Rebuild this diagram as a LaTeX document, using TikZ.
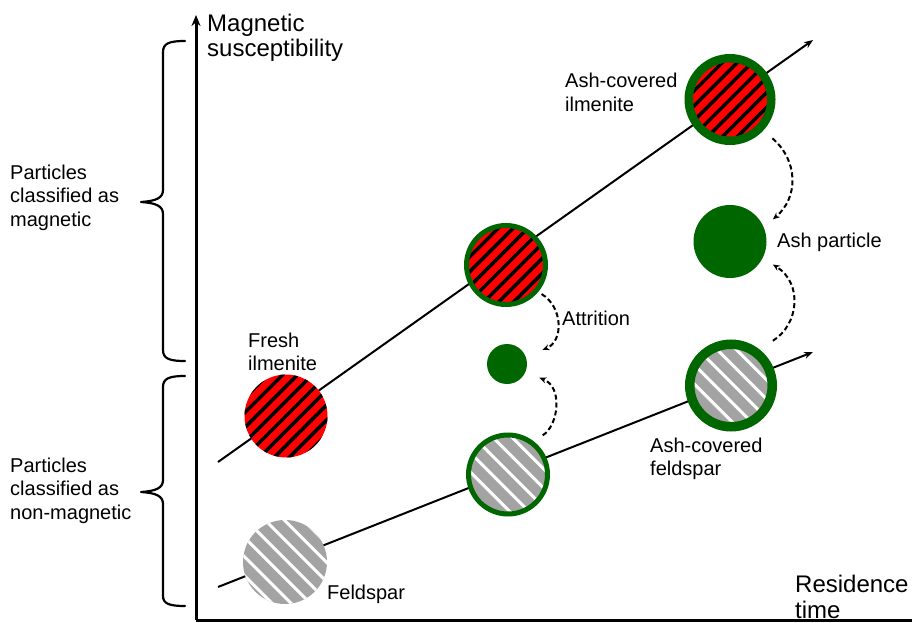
\documentclass[tikz,border=0pt]{standalone}
\usepackage{fontspec}
\setmainfont{Liberation Sans}
\usetikzlibrary{arrows.meta}

\definecolor{ashgreen}{RGB}{0,102,0}
\definecolor{ilred}{RGB}{255,0,0}
\definecolor{fsgrey}{RGB}{163,163,163}

\tikzset{
  lbl/.style={font=\fontsize{20}{23.5}\selectfont, align=left, anchor=base west, inner sep=0pt},
  axlbl/.style={font=\fontsize{24}{25.5}\selectfont, align=left, anchor=base west, inner sep=0pt},
  particle/.style={circle, inner sep=0pt, draw=none},
  % black stripes rising to the right, 10.5 apart (offset 7.42 = 10.5/sqrt 2)
  ilmhatch/.style={path picture={
      \begin{scope}[shift={(path picture bounding box.center)}]
        \foreach \k in {-6,...,6}{\draw[black, line width=3.5pt]
          ({\k*7.42-50},{\k*7.42+50}) -- ({\k*7.42+50},{\k*7.42-50});}
      \end{scope}}},
  % white stripes falling to the right, 13.5 apart (offset 9.55 = 13.5/sqrt 2)
  fshatch/.style={path picture={
      \begin{scope}[shift={(path picture bounding box.center)}]
        \foreach \k in {-5,...,5}{\draw[white, line width=3pt]
          ({\k*9.55+3-50},{-\k*9.55-50}) -- ({\k*9.55+3+50},{-\k*9.55+50});}
      \end{scope}}},
  axis/.style={line width=3pt, black},
  trend/.style={line width=2pt, black, -{Stealth[length=9pt, width=7pt]}},
  bracepath/.style={line width=2.2pt, black, line cap=round, line join=round},
  process/.style={line width=2pt, black, dash pattern=on 5pt off 3pt, -{Stealth[length=7pt, width=6pt]}},
}

\begin{document}
\begin{tikzpicture}[x=1pt, y=-1pt]
  \useasboundingbox (0,0) rectangle (913,623);

  % axes
  \coordinate (O) at (196,620);
  \coordinate (ytop) at (196,15);
  \coordinate (xend) at (912,620);
  \draw[axis, -{Stealth[length=11pt, width=9pt]}] (O) -- (ytop);
  \draw[axis] (O) -- (xend);
  \node[axlbl] (ylab) at (207,57) {Magnetic\\susceptibility};
  \node[axlbl] (xlab) at (795,618) {Residence\\time};

  % trend lines
  \coordinate (u0) at (218,462);
  \coordinate (u1) at (813,40);
  \coordinate (l0) at (218,587);
  \coordinate (l1) at (813,352);
  \draw[trend] (u0) -- (u1);
  \draw[trend] (l0) -- (l1);

  % braces
  \draw[bracepath] (185,41) .. controls (170,41) and (163,43) .. (163,52)
    -- (163,190) .. controls (163,198) and (156,201) .. (141,202)
    .. controls (156,203) and (163,206) .. (163,214)
    -- (163,350) .. controls (163,359) and (170,361) .. (185,361);
  \draw[bracepath] (185,376) .. controls (170,376) and (163,378) .. (163,387)
    -- (163,480) .. controls (163,488) and (156,491) .. (141,492)
    .. controls (156,493) and (163,496) .. (163,504)
    -- (163,596) .. controls (163,604) and (170,606) .. (185,606);
  \node[lbl] (magcls) at (10,226) {Particles\\classified as\\magnetic};
  \node[lbl] (nmagcls) at (10,519) {Particles\\classified as\\non-magnetic};

  % particles
  \node[particle, fill=ilred, ilmhatch, minimum size=83pt] (fresh) at (286,416) {};
  \node[particle, fill=ilred, ilmhatch, draw=ashgreen, line width=5pt, minimum size=79pt] (milmen) at (506,265) {};
  \node[particle, fill=ilred, ilmhatch, draw=ashgreen, line width=8.5pt, minimum size=82.5pt] (tilmen) at (730,99.5) {};
  \node[particle, fill=ashgreen, minimum size=73pt] (ash) at (730,241.5) {};
  \node[particle, fill=ashgreen, minimum size=40pt] (small) at (507,364) {};
  \node[particle, fill=fsgrey, fshatch, minimum size=84pt] (feld) at (285,562) {};
  \node[particle, fill=fsgrey, fshatch, draw=ashgreen, line width=5pt, minimum size=79pt] (mfeld) at (508,474.5) {};
  \node[particle, fill=fsgrey, fshatch, draw=ashgreen, line width=9.5pt, minimum size=82.5pt] (brfeld) at (731,385.5) {};

  % particle labels
  \node[lbl] (freshlab) at (248,370.5) {Fresh\\ilmenite};
  \node[lbl] (tilmenlab) at (565,111.5) {Ash-covered\\ilmenite};
  \node[lbl] (ashlab) at (777,247) {Ash particle};
  \node[lbl] (attrlab) at (562,325) {Attrition};
  \node[lbl] (brfeldlab) at (650,475.5) {Ash-covered\\feldspar};
  \node[lbl] (feldlab) at (327,599) {Feldspar};

  % transformations
  \draw[process, shorten <=12pt, shorten >=12pt] (tilmen.-43) .. controls +(35,30) and +(35,-30) .. (ash.23);
  \draw[process, shorten <=16pt, shorten >=12pt] (brfeld.52) .. controls +(40,-25) and +(40,25) .. (ash.-27);
  \draw[process, shorten <=4pt, shorten >=18pt] (milmen.-40) .. controls +(25,15) and +(38,-15) .. (small.22);
  \draw[process, shorten <=11pt, shorten >=15pt] (mfeld.53) .. controls +(25,-15) and +(38,15) .. (small.-24);
\end{tikzpicture}
\end{document}
